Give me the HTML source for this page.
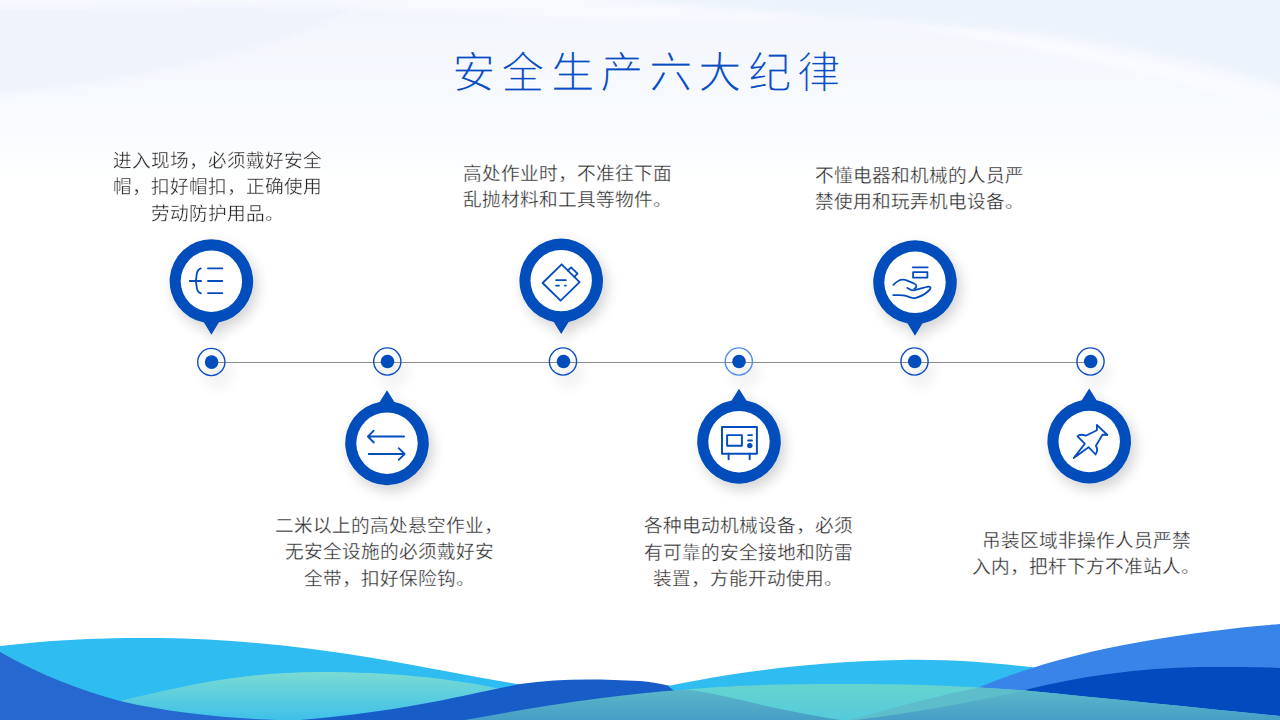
<!DOCTYPE html>
<html lang="zh-CN">
<head>
<meta charset="utf-8">
<style>
html,body{margin:0;padding:0;}
body{width:1280px;height:720px;overflow:hidden;position:relative;background:#fff;font-family:"Liberation Serif",serif;}
svg.bg{position:absolute;left:0;top:0;}
.t{position:absolute;font-size:18.67px;line-height:26.6px;color:#262626;-webkit-text-stroke:0.32px #fff;white-space:nowrap;text-align:center;}
.title{position:absolute;left:452px;top:45px;font-size:43.5px;line-height:56px;color:#0b4cc2;-webkit-text-stroke:1.1px #fff;letter-spacing:6.3px;white-space:nowrap;}
</style>
</head>
<body>
<svg class="bg" width="1280" height="720" viewBox="0 0 1280 720">
  <defs>
    <linearGradient id="topg" gradientUnits="userSpaceOnUse" x1="0" y1="0" x2="0" y2="185">
      <stop offset="0" stop-color="#f3f6fd"/>
      <stop offset="0.5" stop-color="#f6f9fe"/>
      <stop offset="1" stop-color="#ffffff"/>
    </linearGradient>
    <linearGradient id="tealg" x1="0" y1="0" x2="0" y2="1">
      <stop offset="0" stop-color="#7adbd2"/>
      <stop offset="1" stop-color="#3fc0ea"/>
    </linearGradient>
    <linearGradient id="teal2" x1="0" y1="0" x2="0" y2="1">
      <stop offset="0" stop-color="#66d4cf"/>
      <stop offset="1" stop-color="#55cadb"/>
    </linearGradient>
    <linearGradient id="greyt" x1="0" y1="0" x2="0" y2="1">
      <stop offset="0" stop-color="#5ab6c9"/>
      <stop offset="1" stop-color="#479ec6"/>
    </linearGradient>
    <filter id="blurtop" x="-10%" y="-30%" width="120%" height="160%"><feGaussianBlur stdDeviation="3"/></filter>
    <filter id="blurdot" x="-100%" y="-100%" width="300%" height="300%"><feGaussianBlur stdDeviation="7"/></filter>
    <filter id="sh" x="-40%" y="-40%" width="180%" height="180%">
      <feGaussianBlur in="SourceAlpha" stdDeviation="7"/>
      <feOffset dx="4" dy="6" result="b"/>
      <feComponentTransfer><feFuncA type="linear" slope="0.18"/></feComponentTransfer>
      <feMerge><feMergeNode/><feMergeNode in="SourceGraphic"/></feMerge>
    </filter>
    <filter id="sh2" x="-50%" y="-50%" width="200%" height="200%">
      <feGaussianBlur in="SourceAlpha" stdDeviation="5"/>
      <feOffset dx="4" dy="6" result="b"/>
      <feComponentTransfer><feFuncA type="linear" slope="0.22"/></feComponentTransfer>
      <feMerge><feMergeNode/><feMergeNode in="SourceGraphic"/></feMerge>
    </filter>
  </defs>

  <!-- top subtle waves -->
  <g filter="url(#blurtop)">
    <rect x="-50" y="-50" width="1380" height="240" fill="url(#topg)"/>
    <path d="M-50 -50 H445 C380 20 200 75 0 94 L-50 96 Z" fill="#eef3fc"/>
    <path d="M-50 -50 H1330 V-5 C900 20 700 30 500 15 C300 0 100 10 -50 8 Z" fill="#f7f9fe"/>
    <path d="M500 -50 H1330 V100 C1200 60 1100 38 1000 30 C880 20 700 8 500 -12 Z" fill="#edf3fc"/>
    <path d="M860 20 C1000 26 1150 55 1290 98 L1290 114 C1150 70 1000 38 860 20 Z" fill="#f9fbff"/>
  </g>
  <!-- bottom waves -->
  <path d="M0 646 C50 640 100 637.5 160 638 C230 639 300 646 370 657.5 C430 668 480 678 520 684.5 C600 700 760 712 900 720 L0 720 Z" fill="#2fbcf1"/>
  <path d="M120 701 C190 684 250 672 320 672 C390 672 450 678 500 689 C560 702 660 716 720 720 L150 720 Z" fill="url(#tealg)"/>
  <path d="M0 652 C40 675 80 690 120 701 C200 720 300 722 340 720 L0 720 Z" fill="#2667d0"/>
  <path d="M300 720 C400 712 460 696 520 684 C560 678 600 679 640 681 C660 683 676 687 690 691 L700 720 Z" fill="#185cc8"/>
  <path d="M668 686 C720 675 800 662 900 660 C960 659 1000 664 1040 668 L1040 700 L686 700 Z" fill="#2fbcf1"/>
  <path d="M977 688 C1020 670 1080 652 1140 642 C1190 633 1240 627 1280 624 L1280 720 L977 720 Z" fill="#3884e8"/>
  <path d="M1025 690 C1080 676 1140 668 1200 667 C1240 667 1260 667 1280 668 L1280 720 L1025 720 Z" fill="#034abe"/>
  <path d="M686 689.5 C720 686.5 760 684 840 684 C920 684 960 686 1025 690.5 C1110 699 1200 708 1280 716 L1280 720 L686 720 Z" fill="url(#teal2)"/>
  <path d="M465 720 C540 706 610 695 686 689.5 C720 694 740 700 771 707 C800 713 825 718 841 720 Z" fill="url(#greyt)"/>
  <path d="M850 720 C900 706 940 695 980 687.5 L1025 690.5 L1025 720 Z" fill="#5dbdcb"/>
  <path d="M856 720 C920 712 970 702 1025 690.5 C1110 699 1200 708 1280 716 L1280 720 Z" fill="url(#greyt)"/>

  <!-- timeline -->
  <g filter="url(#blurdot)" fill="#000" opacity="0.05">
    <circle cx="217.3" cy="373.0" r="15"/>
    <circle cx="393.3" cy="372.5" r="15"/>
    <circle cx="569.0" cy="372.5" r="15"/>
    <circle cx="744.8" cy="372.5" r="15"/>
    <circle cx="920.5" cy="372.5" r="15"/>
    <circle cx="1096.5" cy="372.5" r="15"/>
  </g>
  <line x1="211" y1="362.5" x2="1090" y2="362.5" stroke="#8c8c8c" stroke-width="1"/>
  <g>
    <circle cx="211.3" cy="362" r="13.6" fill="none" stroke="#0a4fc4" stroke-width="1.4"/>
    <circle cx="387.3" cy="361.5" r="13.6" fill="none" stroke="#0a4fc4" stroke-width="1.4"/>
    <circle cx="563" cy="361.5" r="13.6" fill="none" stroke="#0a4fc4" stroke-width="1.4"/>
    <circle cx="738.8" cy="361.5" r="13.6" fill="none" stroke="#4d8ee8" stroke-width="1.4"/>
    <circle cx="914.5" cy="361.5" r="13.6" fill="none" stroke="#0a4fc4" stroke-width="1.4"/>
    <circle cx="1090.5" cy="361.5" r="13.6" fill="none" stroke="#0a4fc4" stroke-width="1.4"/>
  </g>
  <g fill="#004dbb">
    <circle cx="211.6" cy="362.1" r="6.8"/>
    <circle cx="387.5" cy="361.5" r="6.8"/>
    <circle cx="563.5" cy="361.5" r="6.8"/>
    <circle cx="739" cy="361.5" r="6.8"/>
    <circle cx="914.7" cy="361.5" r="6.8"/>
    <circle cx="1090.7" cy="361.5" r="6.8"/>
  </g>

  <!-- pins -->
  <g filter="url(#sh)">
    <g transform="translate(211.4 281.2)"><path d="M0 -42 A42 42 0 0 1 7.4 41.3 L0 53.5 L-7.4 41.3 A42 42 0 0 1 0 -42 Z" fill="#004dbb"/></g>
    <g transform="translate(561.2 280.6)"><path d="M0 -42 A42 42 0 0 1 7.4 41.3 L0 53.5 L-7.4 41.3 A42 42 0 0 1 0 -42 Z" fill="#004dbb"/></g>
    <g transform="translate(915 282.3)"><path d="M0 -42 A42 42 0 0 1 7.4 41.3 L0 53.5 L-7.4 41.3 A42 42 0 0 1 0 -42 Z" fill="#004dbb"/></g>
    <g transform="translate(387 443.2)"><path d="M0 42 A42 42 0 0 1 -7.4 -41.3 L0 -53 L7.4 -41.3 A42 42 0 0 1 0 42 Z" fill="#004dbb"/></g>
    <g transform="translate(739 441.7)"><path d="M0 42 A42 42 0 0 1 -7.4 -41.3 L0 -53 L7.4 -41.3 A42 42 0 0 1 0 42 Z" fill="#004dbb"/></g>
    <g transform="translate(1089.2 441.5)"><path d="M0 42 A42 42 0 0 1 -7.4 -41.3 L0 -53 L7.4 -41.3 A42 42 0 0 1 0 42 Z" fill="#004dbb"/></g>
  </g>
  <g fill="#fff">
    <circle cx="211.4" cy="281.2" r="30.7"/>
    <circle cx="561.2" cy="280.6" r="30.7"/>
    <circle cx="915" cy="282.3" r="30.7"/>
    <circle cx="387" cy="443.2" r="30.7"/>
    <circle cx="739" cy="441.7" r="30.7"/>
    <circle cx="1089.2" cy="441.5" r="30.7"/>
  </g>

  <!-- icons -->
  <g fill="none" stroke="#054dbe" stroke-width="1.8" stroke-linecap="round" stroke-linejoin="round">
    <!-- icon1 -->
    <path d="M208 268.4 H222.3 M208 281 H222.3 M208 293.2 H222.3"/>
    <path d="M200.8 268.4 C197.6 269.4 196.9 272 196.6 275 C196.3 278 196.1 280 195.6 281 C196.1 282 196.4 284 196.7 287 C197 290 197.6 292.4 200.9 293.3 M189.7 281 H201.1"/>
    <!-- icon2 -->
    <path d="M561.6 264.3 L579.6 282.2 L560.6 300.7 L542.6 283 Z"/>
    <path d="M567.9 270.5 L571.1 267.3 L577.5 273.7 L574.3 276.9"/>
    <path d="M556.1 280.2 H565.9 M556.1 285.6 H559 M564.9 285.6 H565.9"/>
    <!-- icon3 hand -->
    <path d="M912.7 267.3 H927.7"/>
    <rect x="913.1" y="272.1" width="14.3" height="5.6"/>
    <path d="M893.3 284.9 C897 281 900 279.5 903 279.6 C906 279.8 911 282 914.5 283.8 C917 285 917 288 914.3 288.6"/>
    <path d="M907.4 287.9 C910 289.5 912 290.5 914 290.3 C918 289.5 925 287 928.6 286.6 C931 286.5 931 288.5 929.5 290 C926 293.5 921 296.5 916 297.8 C912 298.8 909 297 906 295.8 C903 294.8 899 295 893.3 295.2"/>
    <!-- icon4 arrows -->
    <g transform="translate(387.2 443.4)">
      <path d="M-19.3 -6.9 H16.9 M-13.4 -12.7 L-19.3 -6.9 L-13.4 -0.9"/>
      <path d="M-18.5 10.6 H17.4 M11.5 4.7 L17.4 10.6 L11.5 16.5"/>
    </g>
    <!-- icon5 microwave -->
    <g stroke-width="1.95">
      <rect x="722" y="427" width="34.9" height="26.75"/>
      <rect x="727.1" y="435.1" width="14.8" height="10.6"/>
      <path d="M748.2 435.1 H752 M748.2 440.5 H752 M728.6 453.8 V459.2 M749.7 453.8 V459.2"/>
    </g>
    <!-- icon6 pin -->
    <path d="M1073.7 458.1 L1084.8 443.7 L1077.5 436.4 Q1080 433.5 1085.8 435.7 L1096.9 430.2 L1096.9 424.9 L1107.4 435 L1102.5 434.7 L1095.9 445.8 Q1098.5 450 1095.6 454.5 L1088.6 447.2 Z"/>
  </g>
  <circle cx="749.8" cy="445.6" r="2.7" fill="#054dbe"/>
</svg>

<div class="title">安全生产六大纪律</div>

<div class="t" style="left:101px;top:147.5px;width:233px;">进入现场，必须戴好安全<br>帽，扣好帽扣，正确使用<br>劳动防护用品。</div>
<div class="t" style="left:462.5px;top:160.5px;text-align:left;">高处作业时，不准往下面<br>乱抛材料和工具等物件。</div>
<div class="t" style="left:815px;top:162.5px;text-align:left;">不懂电器和机械的人员严<br>禁使用和玩弄机电设备。</div>
<div class="t" style="left:250px;top:512.5px;width:278px;">二米以上的高处悬空作业，<br>无安全设施的必须戴好安<br>全带，扣好保险钩。</div>
<div class="t" style="left:610px;top:513px;width:276px;">各种电动机械设备，必须<br>有可靠的安全接地和防雷<br>装置，方能开动使用。</div>
<div class="t" style="left:948px;top:527.5px;width:276px;">吊装区域非操作人员严禁<br>入内，把杆下方不准站人。</div>
</body>
</html>
